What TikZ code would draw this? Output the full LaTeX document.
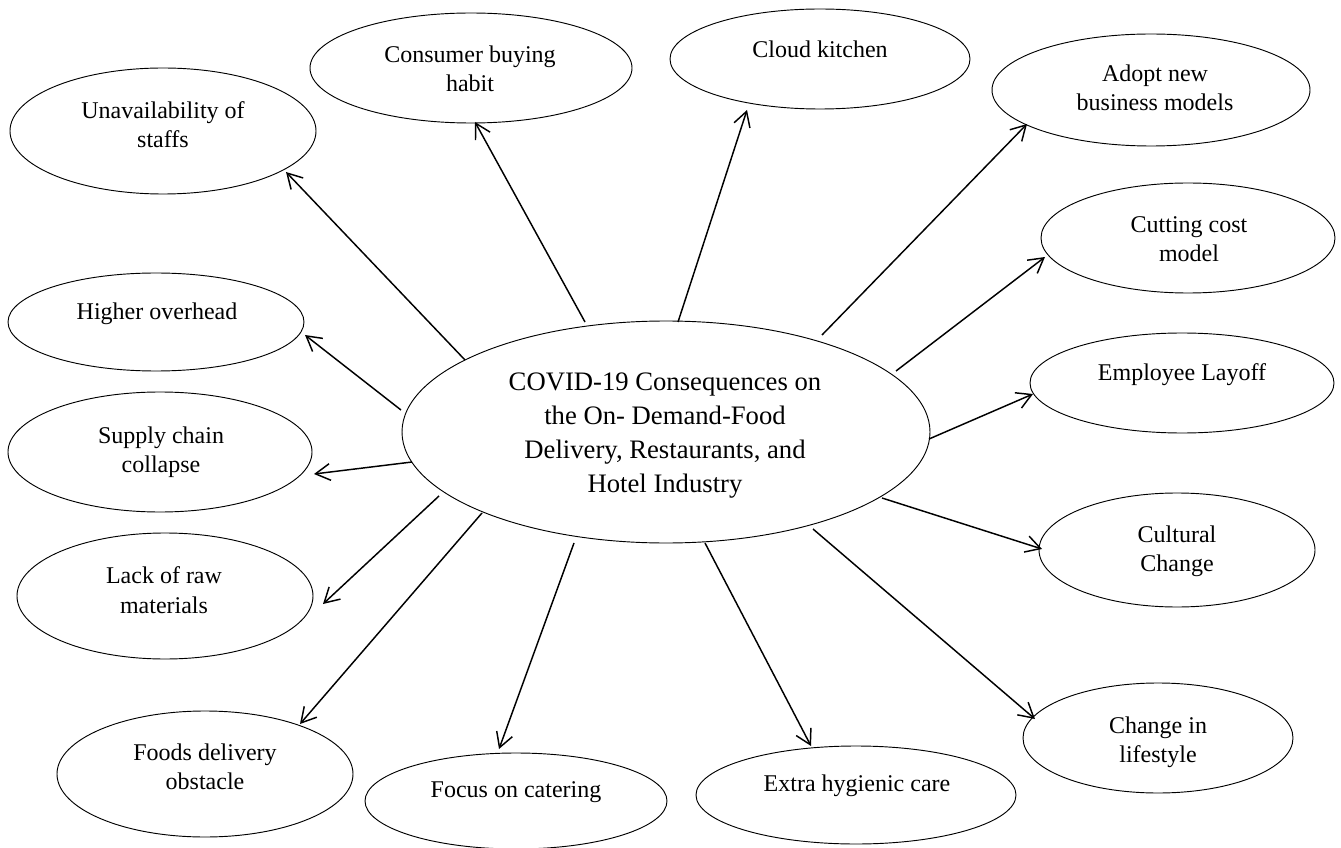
\documentclass[tikz,border=0pt]{standalone}
\usepackage{fontspec}
\setmainfont{Liberation Serif}
\usetikzlibrary{shapes.geometric,arrows.meta}
\tikzset{
  ell/.style 2 args={ellipse, draw, line width=0.7pt, inner sep=0pt,
    minimum width=#1*1.5pt, minimum height=#2*1.5pt},
  txt/.style={align=center, inner sep=0pt, font=\fontsize{18}{22}\selectfont},
  ctxt/.style={align=center, inner sep=0pt, font=\fontsize{20}{25.5}\selectfont},
  arr/.style={line width=1.1pt, -{Straight Barb[length=11pt,width=12.5pt]}}
}
\begin{document}
\begin{tikzpicture}[x=0.75pt,y=-0.75pt]
\useasboundingbox (0,0) rectangle (1341,848);
% central
\node[ell={264}{111}] (c) at (666,432) {};
\node[ctxt] (ct) at (665,436) {COVID-19 Consequences on\\the On- Demand-Food\\Delivery, Restaurants, and\\Hotel Industry};
% outer ellipses
\node[ell={153}{63}] (e1) at (163,131) {};
\node[txt] (t1) at (163,125) {Unavailability of\\staffs};
\node[ell={161}{55}] (e2) at (471,68) {};
\node[txt] (t2) at (470,69) {Consumer buying\\habit};
\node[ell={150}{50}] (e3) at (820,59) {};
\node[txt] (t3) at (820,49) {Cloud kitchen};
\node[ell={159}{56}] (e4) at (1151,90) {};
\node[txt] (t4) at (1155,88) {Adopt new\\business models};
\node[ell={147}{55}] (e5) at (1188,238) {};
\node[txt] (t5) at (1189,239) {Cutting cost\\model};
\node[ell={152}{50}] (e6) at (1182,383) {};
\node[txt] (t6) at (1182,375) {Employee Layoff};
\node[ell={138}{57}] (e7) at (1177,550) {};
\node[txt] (t7) at (1177,551) {Cultural\\Change};
\node[ell={135}{55}] (e8) at (1158,738) {};
\node[txt] (t8) at (1158,742) {Change in\\lifestyle};
\node[ell={160}{49}] (e9) at (856,795) {};
\node[txt] (t9) at (857,786) {Extra hygienic care};
\node[ell={151}{48}] (e10) at (516,801) {};
\node[txt] (t10) at (516,792) {Focus on catering};
\node[ell={148}{63}] (e11) at (205,774) {};
\node[txt] (t11) at (205,767) {Foods delivery\\obstacle};
\node[ell={148}{63}] (e12) at (165,596) {};
\node[txt] (t12) at (164,590) {Lack of raw\\materials};
\node[ell={152}{60}] (e13) at (160,452) {};
\node[txt] (t13) at (161,452) {Supply chain\\collapse};
\node[ell={148}{49}] (e14) at (156,322) {};
\node[txt] (t14) at (157,314) {Higher overhead};
% connector end points
\coordinate (s1) at (465,360);  \coordinate (a1) at (286,172);
\coordinate (s2) at (585,322);  \coordinate (a2) at (475,122);
\coordinate (s3) at (678,322);  \coordinate (a3) at (747,110);
\coordinate (s4) at (822,335);  \coordinate (a4) at (1027,124);
\coordinate (s5) at (896,371);  \coordinate (a5) at (1045,257);
\coordinate (s6) at (929,439);  \coordinate (a6) at (1033,394);
\coordinate (s7) at (882,498);  \coordinate (a7) at (1042,549);
\coordinate (s8) at (813,529);  \coordinate (a8) at (1035,719);
\coordinate (s9) at (705,543);  \coordinate (a9) at (811,746);
\coordinate (s10) at (574,543); \coordinate (a10) at (499,749);
\coordinate (s11) at (482,513); \coordinate (a11) at (300,724);
\coordinate (s12) at (439,496); \coordinate (a12) at (323,604);
\coordinate (s13) at (412,462); \coordinate (a13) at (314,474);
\coordinate (s14) at (401,410); \coordinate (a14) at (305,335);
\foreach \i in {1,...,14}{\draw[arr] (s\i) -- (a\i);}
\end{tikzpicture}
\end{document}
